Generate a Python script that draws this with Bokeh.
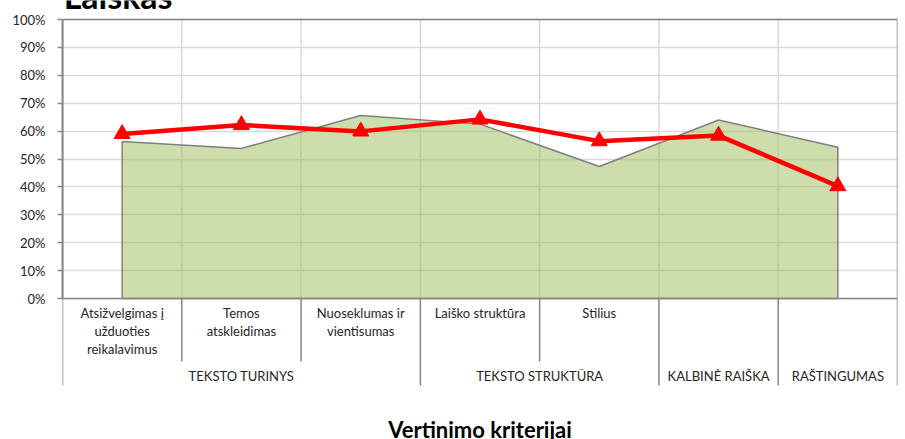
from bokeh.plotting import figure
from bokeh.models import Range1d, FixedTicker, NumeralTickFormatter
from bokeh.core.properties import value
from bokeh.embed import file_html
from bokeh.resources import INLINE

# ---------------- data ----------------
title_text = "Laiškas"
x_axis_title = "Vertinimo kriterijai"
criteria = ["Atsižvelgimas į\nužduoties\nreikalavimus", "Temos\natskleidimas",
            "Nuoseklumas ir\nvientisumas", "Laiško struktūra", "Stilius", "", ""]
groups = ["TEKSTO TURINYS", "TEKSTO STRUKTŪRA", "KALBINĖ RAIŠKA", "RAŠTINGUMAS"]
group_sizes = [3, 2, 1, 1]
area_values = [0.563, 0.538, 0.656, 0.625, 0.473, 0.640, 0.542]
line_values = [0.590, 0.622, 0.599, 0.642, 0.564, 0.584, 0.403]
y_ticks = [0.0, 0.1, 0.2, 0.3, 0.4, 0.5, 0.6, 0.7, 0.8, 0.9, 1.0]

# ---------------- layout helpers ----------------
PX = 279.0      # pixels per 100 %
ZERO = 298.0    # page y of 0 %
def ypos(page_y):
    return (ZERO - page_y) / PX

n = len(criteria)
xs = [i + 0.5 for i in range(n)]

p = figure(width=905, height=439, output_backend="svg", toolbar_location=None,
           x_range=Range1d(0, n), y_range=Range1d(ypos(439), ypos(0)),
           min_border_left=62, min_border_right=8, min_border_top=0, min_border_bottom=0,
           outline_line_color=None, background_fill_color="white",
           border_fill_color="white")
p.xaxis.visible = False
p.xgrid.visible = False

ax = p.yaxis[0]
ax.ticker = FixedTicker(ticks=y_ticks)
ax.formatter = NumeralTickFormatter(format="0%")
ax.bounds = (0, 1)
ax.axis_line_color = "#868686"
ax.axis_line_width = 2
ax.major_tick_line_color = "#868686"
ax.major_tick_line_width = 1.5
ax.major_tick_out = 5
ax.major_tick_in = 0
ax.minor_tick_line_color = None
ax.major_label_standoff = 12
ax.major_label_text_font = "Lato"
ax.major_label_text_font_size = "13px"
ax.major_label_text_color = "#262626"

p.ygrid.grid_line_color = "#d9d9d9"
p.ygrid.grid_line_width = 1.5

# vertical gridlines at category boundaries
bx = list(range(1, n))
p.segment(x0=bx, y0=[0] * len(bx), x1=bx, y1=[1] * len(bx),
          line_color="#d9d9d9", line_width=1.5)

# area series
ax_x = [xs[0]] + xs + [xs[-1]]
ax_y = [0] + area_values + [0]
p.patch(ax_x, ax_y, fill_color="#9BBB59", fill_alpha=0.5,
        line_color="#7f7f7f", line_width=1.5)

# plot border
p.quad(left=[0], right=[n], bottom=[0], top=[1], fill_color=None,
       line_color="#868686", line_width=1.5)

# red line series
p.line(xs, line_values, line_color="#ff0000", line_width=4.5)
p.scatter(xs, line_values, marker="triangle", size=16,
          fill_color="#ff0000", line_color="#ff0000")

# category separators
edges = [0]
for s in group_sizes:
    edges.append(edges[-1] + s)
short = [i for i in range(n + 1) if i not in edges]
p.segment(x0=edges, y0=[0] * len(edges), x1=edges, y1=[ypos(385)] * len(edges),
          line_color="#868686", line_width=1.5)
p.segment(x0=short, y0=[0] * len(short), x1=short, y1=[ypos(361)] * len(short),
          line_color="#868686", line_width=1.5)

# category labels
p.text(x=xs, y=[ypos(304)] * n, text=criteria, text_align="center",
       text_baseline="top", text_font=value("Lato"), text_font_size="13px",
       text_color="#262626", text_line_height=1.15)

# group labels
gx = [(edges[i] + edges[i + 1]) / 2 for i in range(len(groups))]
p.text(x=gx, y=[ypos(375)] * len(groups), text=groups, text_align="center",
       text_baseline="middle", text_font=value("Lato"), text_font_size="13px",
       text_color="#262626")

# axis title
p.text(x=[n / 2], y=[ypos(429)], text=[x_axis_title], text_align="center",
       text_baseline="middle", text_font=value("Lato"), text_font_size="22px",
       text_font_style="bold", text_color="black")

# chart title (partly above the visible area, as in the reference)
p.text(x=[0.01], y=[ypos(-5)], text=[title_text], text_align="left",
       text_baseline="alphabetic", text_font=value("Lato"), text_font_size="34px",
       text_font_style="bold", text_color="black")

open("out.html", "w").write(file_html(p, INLINE))
